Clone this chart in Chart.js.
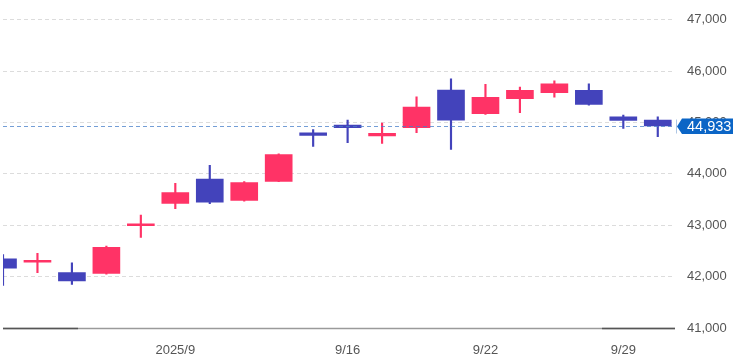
<!DOCTYPE html>
<html><head><meta charset="utf-8">
<script src="https://cdn.jsdelivr.net/npm/chart.js@4"></script>
<style>html,body{margin:0;padding:0;background:#fff;overflow:hidden}</style>
</head><body>
<canvas id="c" width="738" height="356" style="width:738px;height:356px;display:block"></canvas>
<script>
const dates  = ['9/1','9/2','9/3','9/4','9/5','9/8','9/9','9/10','9/11','9/12','9/16','9/17','9/18','9/19','9/22','9/24','9/25','9/26','9/29','9/30'];
const opens  = [42346,42280,42078,42063,42990,43426,43901,43484,43856,44801,44950,44738,44898,45631,45174,45463,45579,45625,45110,45046];
const highs  = [42430,42455,42270,42597,43200,43818,44165,43850,44390,44865,45046,44987,45502,45849,45746,45688,45810,45752,45143,45110];
const lows   = [41830,42078,41850,42049,42763,43322,43420,43470,43850,44537,44608,44595,44801,44479,45160,45193,45496,45336,44884,44724];
const closes = [42165,42310,41915,42570,43010,43638,43450,43831,44377,44750,44900,44788,45303,45045,45490,45625,45752,45354,45043,44933];
const xTickIndex  = [5,10,14,18];
const xTickLabels = ['2025/9','9/16','9/22','9/29'];
const yTicks = [41000,42000,43000,44000,45000,46000,47000];

const UP = '#ff3366', DOWN = '#4343bb';
const colors = closes.map((c,i)=> c >= opens[i] ? UP : DOWN);
const bodies = dates.map((d,i)=>({x:i, y:[opens[i], closes[i]]}));
const wicks  = dates.map((d,i)=>({x:i, y:[lows[i], highs[i]]}));
const lastClose = closes[closes.length-1];

const FONT = {family:'"Liberation Sans", Arial, sans-serif', size:13};

const overlay = {
  id:'overlay',
  afterDraw(chart){
    const ctx = chart.ctx, a = chart.chartArea, ys = chart.scales.y;
    const yb = Math.round(ys.getPixelForValue(yTicks[0])) + 0.5;
    const w = a.right - a.left;
    ctx.save();
    ctx.lineWidth = 1.5;
    ctx.strokeStyle = '#9a9a9a';
    ctx.beginPath(); ctx.moveTo(a.left, yb); ctx.lineTo(a.right, yb); ctx.stroke();
    ctx.strokeStyle = '#555';
    ctx.beginPath(); ctx.moveTo(a.left, yb); ctx.lineTo(a.left + w*0.1116, yb); ctx.stroke();
    ctx.beginPath(); ctx.moveTo(a.left + w*0.8914, yb); ctx.lineTo(a.right, yb); ctx.stroke();
    const yp = Math.round(ys.getPixelForValue(lastClose)) + 0.5;
    ctx.lineWidth = 1;
    ctx.strokeStyle = 'rgba(70,125,200,0.75)';
    ctx.setLineDash([4,3]);
    ctx.beginPath(); ctx.moveTo(a.left, yp); ctx.lineTo(a.right, yp); ctx.stroke();
    ctx.setLineDash([]);
    ctx.strokeStyle = 'rgba(120,160,210,0.6)';
    ctx.beginPath(); ctx.moveTo(a.right+1.5, yp-7); ctx.lineTo(a.right+1.5, yp+7); ctx.stroke();
    const r = a.right, t = yp-8, b = yp+7.5;
    ctx.fillStyle = '#0b65c6';
    ctx.beginPath();
    ctx.moveTo(r+2, yp); ctx.lineTo(r+7, t); ctx.lineTo(r+58, t);
    ctx.lineTo(r+58, b); ctx.lineTo(r+7, b); ctx.closePath(); ctx.fill();
    ctx.fillStyle = '#fff';
    ctx.font = '14.5px "Liberation Sans", Arial, sans-serif';
    ctx.textAlign = 'left'; ctx.textBaseline = 'middle';
    ctx.fillText(lastClose.toLocaleString('en-US'), r+12, yp+0.5);
    ctx.restore();
  }
};

new Chart(document.getElementById('c'), {
  type:'bar',
  data:{
    datasets:[
      {label:'body', data:bodies, backgroundColor:colors, barThickness:27, minBarLength:2, grouped:false, order:0},
      {label:'wick', data:wicks, backgroundColor:colors, barThickness:1.5, grouped:false, order:1}
    ]
  },
  options:{
    responsive:false, animation:false,
    layout:{padding:{left:3, top:17, right:0, bottom:0}},
    plugins:{legend:{display:false}, tooltip:{enabled:false}},
    scales:{
      x:{
        type:'linear', min:0, max:19.5, offset:false, bounds:'ticks',
        grid:{display:false, offset:false}, border:{display:false},
        afterBuildTicks(s){ s.ticks = xTickIndex.map(v=>({value:v})); },
        afterFit(s){ s.height = 28; },
        ticks:{autoSkip:false, maxRotation:0, padding:7, color:'#555', font:FONT,
          callback(v){ const k = xTickIndex.indexOf(v); return k>=0 ? xTickLabels[k] : ''; }}
      },
      y:{
        type:'linear', position:'right', min:41000, max:47000,
        afterBuildTicks(s){ s.ticks = yTicks.map(v=>({value:v})); },
        afterFit(s){ s.width = 63; },
        grid:{drawTicks:false, color:(c)=> c.tick && c.tick.value===yTicks[0] ? 'rgba(0,0,0,0)' : '#dcdcdc', lineWidth:1},
        border:{display:false, dash:[4,3]},
        ticks:{padding:12, color:'#555', font:FONT, callback:(v)=> v.toLocaleString('en-US')}
      }
    }
  },
  plugins:[overlay]
});
</script>
</body></html>
